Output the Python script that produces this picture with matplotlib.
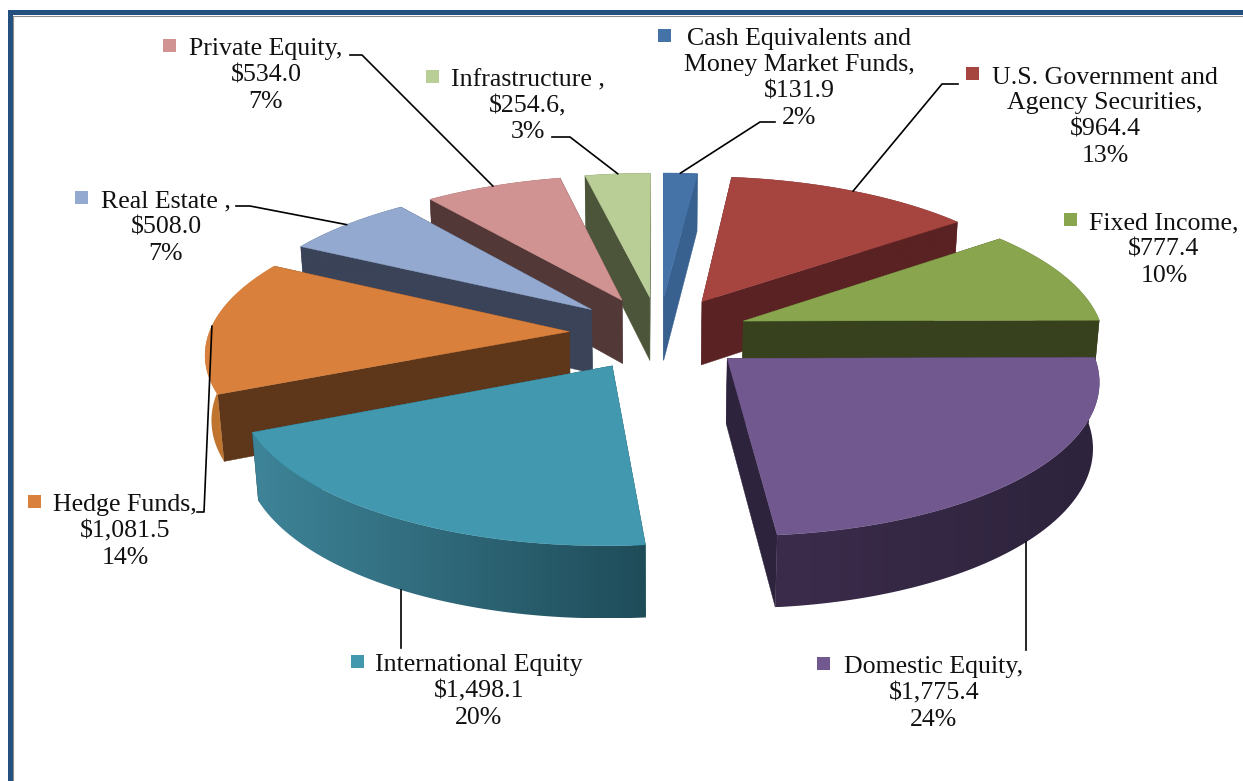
import numpy as np
import matplotlib
matplotlib.use("Agg")
import matplotlib.pyplot as plt
from matplotlib.colors import LinearSegmentedColormap
from matplotlib.patches import Polygon

names = [["Cash Equivalents and", "Money Market Funds,"], ["U.S. Government and", "Agency Securities,"],
         ["Fixed Income,"], ["Domestic Equity,"], ["International Equity"], ["Hedge Funds,"],
         ["Real Estate ,"], ["Private Equity,"], ["Infrastructure ,"]]
values = [131.9, 964.4, 777.4, 1775.4, 1498.1, 1081.5, 508.0, 534.0, 254.6]
amountSuffix = ["", "", "", "", "", "", "", "", ","]
topColors = ["#4572A7", "#A64440", "#89A54E", "#71588F", "#4198AF", "#D8803C", "#93A9CF", "#D19392", "#B9CD96"]
sideColors = ["#38618F", "#5A2222", "#38411D", "#2D233C", "#1F4C59", "#5E361A", "#3A4358", "#533838", "#4C5539"]
arcColors = [("#38618F", "#38618F"), ("#5A2222", "#5A2222"), ("#38411D", "#38411D"), ("#3B2C4B", "#2D233C"),
             ("#3E8499", "#1F4C59"), ("#C0752F", "#C0752F"), ("#3A4358", "#3A4358"), ("#533838", "#533838"), ("#4C5539", "#4C5539")]
drawOrder = [0, 8, 7, 6, 5, 4, 1, 2, 3]

# camera of the tilted pie, in image pixels
cx, cy, sx, sy, sz = 659, 333, 360, 148.2, 65.5
persp, zPersp, explode = 0.126, 0.014, 0.25

values = np.array(values)
total = values.sum()
edges = np.concatenate([[0], np.cumsum(values)]) / total * 2 * np.pi
mids = (edges[:-1] + edges[1:]) / 2


def project(theta, r, mid, z=0):
    u = explode * np.sin(mid) + r * np.sin(theta)
    v = -explode * np.cos(mid) - r * np.cos(theta)
    d = 1 - persp * v + zPersp * z
    return cx + sx * u / d, cy + (sy * v + sz * z) / d


fig = plt.figure(figsize=(12.43, 7.81), dpi=100)
ax = fig.add_axes([0, 0, 1, 1])
plt.rcParams["font.family"] = ["Liberation Serif", "DejaVu Serif"]

# frame
ax.fill([8, 1243, 1243, 13, 13, 8], [10, 10, 15, 15, 781, 781], color="#24507F", lw=0)
ax.plot([13.5, 13.5, 1243], [781, 15.5, 15.5], color="#8C8C8C", lw=0.8)

for i in drawOrder:
    mid = mids[i]
    zo = 2 + drawOrder.index(i)
    for theta in (edges[i], edges[i + 1]):
        xTop, yTop = project(np.array([theta, theta]), np.array([0, 1]), mid)
        xBot, yBot = project(np.array([theta, theta]), np.array([1, 0]), mid, 1)
        ax.fill(np.r_[xTop, xBot], np.r_[yTop, yBot], color=sideColors[i], lw=0.3, zorder=zo)
    arc = np.linspace(edges[i], edges[i + 1], 80)
    xTop, yTop = project(arc, 1, mid)
    xBot, yBot = project(arc, 1, mid, 1)
    xWall, yWall = np.r_[xTop, xBot[::-1]], np.r_[yTop, yBot[::-1]]
    # outer wall shaded from left to right
    wallCmap = LinearSegmentedColormap.from_list("wall", arcColors[i])
    shade = ax.imshow(np.linspace(0, 1, 256).reshape(1, -1), cmap=wallCmap, aspect="auto", zorder=zo,
                      extent=[xWall.min(), xWall.max(), yWall.max(), yWall.min()])
    shade.set_clip_path(Polygon(np.c_[xWall, yWall], transform=ax.transData))
    xTip, yTip = project(mid, 0, mid)
    ax.fill(np.r_[xTip, xTop], np.r_[yTip, yTop], color=topColors[i], lw=0.3, zorder=zo)

# labels, one row of text each
labelX = [799, 1105, 1164, 934, 479, 125, 166, 266, 528]
labelY = [37, 75, 221, 665, 663, 503, 199, 47, 78]
keyX = [665, 973, 1071, 824, 358, 35, 82, 170, 433]
for i in range(len(values)):
    rows = names[i] + [f"${values[i]:,.1f}{amountSuffix[i]}", f"{round(100 * values[i] / total)}%"]
    for j, row in enumerate(rows):
        ax.text(labelX[i], labelY[i] + 8.5 + j * 26, row, ha="center", va="baseline", fontsize=18.6, color="#111111", zorder=20)
    ax.fill([keyX[i] - 6.5, keyX[i] + 6.5, keyX[i] + 6.5, keyX[i] - 6.5],
            np.array([-6.5, -6.5, 6.5, 6.5]) + labelY[i] - 1.5, color=topColors[i], lw=0, zorder=20)

# leader lines, from the label to the slice
leaders = {0: [(775, 122), (760, 122)], 1: [(958, 84), (942, 84)], 3: [(1026, 650)], 4: [(401, 648)],
           5: [(197, 512), (204, 512)], 6: [(236, 206), (250, 206)], 7: [(350, 55), (362, 55)], 8: [(552, 137), (570, 137)]}
onWall = [3, 4]
for i, pts in leaders.items():
    x, y = project(mids[i], 1, mids[i], 1 if i in onWall else 0)
    if i in onWall:
        x = pts[0][0]
    xs = [p[0] for p in pts] + [x]
    ys = [p[1] for p in pts] + [y]
    ax.plot(xs, ys, color="black", lw=1.2, zorder=19)

ax.set_xlim(0, 1243)
ax.set_ylim(781, 0)
ax.axis("off")
plt.savefig("out.png", dpi=100)
plt.close()
